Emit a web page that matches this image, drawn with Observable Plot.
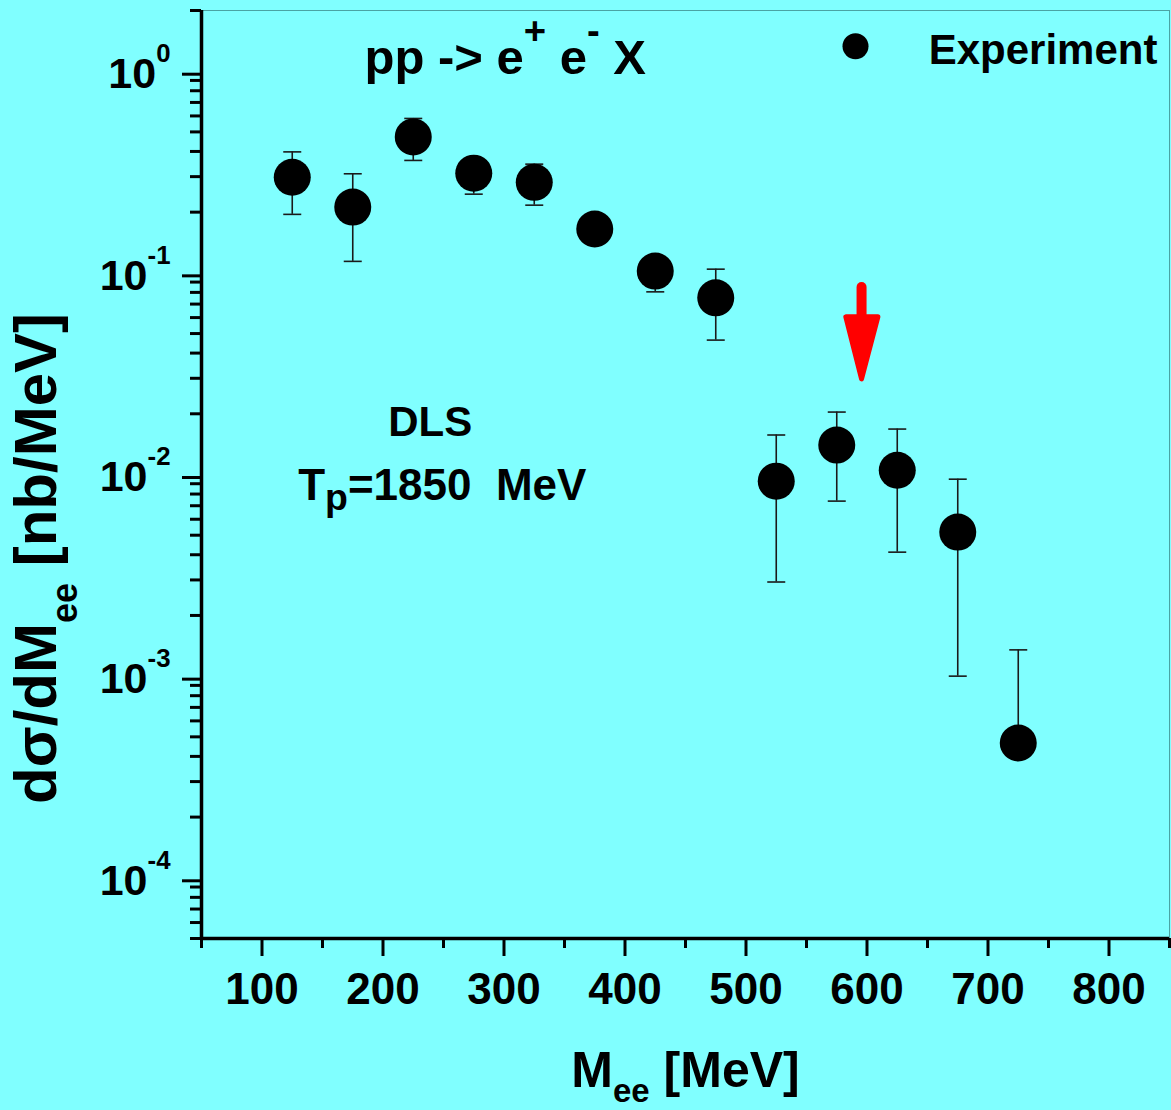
<!DOCTYPE html>
<html>
<head>
<meta charset="utf-8">
<script src="https://cdn.jsdelivr.net/npm/d3@7"></script>
<script src="https://cdn.jsdelivr.net/npm/@observablehq/plot@0.6"></script>
<style>
  html, body { margin: 0; padding: 0; background: #80FFFF; }
  #chart { width: 1171px; height: 1110px; }
</style>
</head>
<body>
<div id="chart"></div>
<script>
// ---- data ----
const massBins = [125, 175, 225, 275, 325, 375, 425, 475, 525, 575, 625, 675, 725];
const xsec     = [0.298, 0.212, 0.472, 0.312, 0.281, 0.165, 0.102, 0.0752, 0.00927, 0.0140, 0.0105, 0.00518, 0.000466];
const errHigh  = [0.398, 0.310, 0.583, 0.36, 0.346, 0.18, 0.12, 0.1043, 0.0157, 0.0204, 0.0168, 0.00948, 0.00135];
const errLow   = [0.195, 0.114, 0.361, 0.2456, 0.2166, 0.15, 0.0805, 0.0464, 0.00293, 0.00738, 0.00412, 0.00100, null];

const xTicks = [100, 200, 300, 400, 500, 600, 700, 800];
const xMinorTicks = [50, 150, 250, 350, 450, 550, 650, 750, 850];
const yDecades = [1e-4, 1e-3, 1e-2, 1e-1, 1];
const yMinorTicks = [];
[1e-5, 1e-4, 1e-3, 1e-2, 1e-1, 1].forEach(d => { for (let m = 2; m <= 9; m++) { const v = m * d; if (v >= 5e-5 && v <= 2.0001) yMinorTicks.push(v); } });

const xTitle = "M_{ee} [MeV]";
const yTitle = "dσ/dM_{ee} [nb/MeV]";
const reactionLabel = "pp -> e^{+} e^{-} X";
const detectorLabel = "DLS";
const energyLabel = "T_{p}=1850\u00a0 MeV";
const legendLabel = "Experiment";

// annotation anchors in data units
const reactionPos = {x: 301, y: 1.165};
const detectorPos = {x: 239, y: 0.0181};
const energyPos = {x: 249, y: 0.0088};
const legendDot = {x: 590.5, y: 1.33};
const legendText = {x: 651, y: 1.26};
const arrowShaft = [{x: 595.5, y1: 0.085, y2: 0.058}];
const arrowHead = [{x: 582.5, y: 0.0605}, {x: 609, y: 0.0605}, {x: 595.5, y: 0.0298}];

const points = massBins.map((m, i) => ({m, v: xsec[i], hi: errHigh[i], lo: errLow[i]}));
const caps = [];
points.forEach(p => { caps.push({m: p.m, y: p.hi}); if (p.lo != null) caps.push({m: p.m, y: p.lo}); });

const capSymbol = { draw(ctx, size) { ctx.moveTo(-9, 0); ctx.lineTo(9, 0); } };

const bold = "bold";
const plot = Plot.plot({
  width: 1171,
  height: 1110,
  marginLeft: 201,
  marginRight: 2,
  marginTop: 10,
  marginBottom: 172,
  style: { background: "#80FFFF", fontFamily: "'Liberation Sans', Arial, sans-serif", color: "black", overflow: "visible" },
  x: { domain: [50, 850] },
  y: { type: "log", domain: [5e-5, 2] },
  marks: [
    // frame
    Plot.ruleY([2], { stroke: "#4aa3a3", strokeWidth: 1 }),
    Plot.ruleX([850], { stroke: "#4aa3a3", strokeWidth: 1 }),
    // axes
    Plot.axisX({ ticks: xMinorTicks, tickSize: 10, strokeWidth: 3, tickFormat: () => "", label: null }),
    Plot.axisX({ ticks: xTicks, tickSize: 18, strokeWidth: 3, tickPadding: 16, fontSize: 44, fontWeight: bold, tickFormat: d => String(d), label: null }),
    Plot.axisY({ ticks: yMinorTicks, tickSize: 11, strokeWidth: 3, tickFormat: () => "", label: null }),
    Plot.axisY({ ticks: yDecades, tickSize: 19, strokeWidth: 3, tickPadding: 12, fontSize: 43, fontWeight: bold, dy: 3,
                 tickFormat: d => `10^{${Math.round(Math.log10(d))}}`, label: null }),
    Plot.ruleX([50], { stroke: "black", strokeWidth: 3.5 }),
    Plot.ruleY([5e-5], { stroke: "black", strokeWidth: 3.5 }),
    // error bars
    Plot.ruleX(points, { x: "m", y1: d => d.lo ?? d.v, y2: "hi", stroke: "#1a1a1a", strokeWidth: 1.6 }),
    Plot.dot(caps, { x: "m", y: "y", symbol: capSymbol, stroke: "#1a1a1a", strokeWidth: 1.6, fill: "none" }),
    // data points
    Plot.dot(points, { x: "m", y: "v", r: 18.5, fill: "black", stroke: "none" }),
    // legend
    Plot.dot([legendDot], { x: "x", y: "y", r: 13, fill: "black" }),
    Plot.text([legendText], { x: "x", y: "y", text: () => legendLabel, textAnchor: "start", fontSize: 42, fontWeight: bold, fill: "black" }),
    // annotations
    Plot.text([reactionPos], { x: "x", y: "y", text: () => reactionLabel, fontSize: 49, fontWeight: bold, fill: "black" }),
    Plot.text([detectorPos], { x: "x", y: "y", text: () => detectorLabel, fontSize: 42, fontWeight: bold, fill: "black" }),
    Plot.text([energyPos], { x: "x", y: "y", text: () => energyLabel, fontSize: 44, fontWeight: bold, fill: "black" }),
    // red arrow
    Plot.link(arrowShaft, { x1: "x", x2: "x", y1: "y1", y2: "y2", stroke: "#ff0000", strokeWidth: 10, strokeLinecap: "round" }),
    Plot.line(arrowHead, { x: "x", y: "y", fill: "#ff0000", stroke: "#ff0000", strokeWidth: 5, strokeLinejoin: "round", curve: "linear-closed" }),
    // axis titles
    Plot.text([xTitle], { frameAnchor: "bottom", textAnchor: "middle", lineAnchor: "middle", text: d => d, dy: 132, fontSize: 50, fontWeight: bold, fill: "black" }),
    Plot.text([yTitle], { frameAnchor: "left", textAnchor: "middle", lineAnchor: "middle", text: d => d, rotate: -90, dx: -165, dy: 84, fontSize: 60, fontWeight: bold, fill: "black" })
  ]
});

document.getElementById("chart").appendChild(plot);

// rich text: ^{..} superscript, _{..} subscript
const richConfig = [
  { test: s => s.startsWith("10^{"), fs: 43, supScale: 0.6, supRaise: 0.6 },
  { test: s => s.startsWith("pp"), fs: 49, supScale: 0.78, supRaise: 0.6 },
  { test: s => s.startsWith("T_{"), fs: 44, subScale: 0.85, subLower: 0.24 },
  { test: s => s.startsWith("M_{"), fs: 50, subScale: 0.66, subLower: 0.3 },
  { test: s => s.startsWith("dσ"), fs: 60, subScale: 0.6, subLower: 0.36 }
];
d3.select(plot).selectAll("text").each(function () {
  const el = this;
  const s = el.textContent;
  if (!/[\^_]\{/.test(s)) return;
  const cfg = richConfig.find(c => c.test(s));
  if (!cfg) return;
  while (el.firstChild) el.removeChild(el.firstChild);
  el.setAttribute("xml:space", "preserve");
  el.style.whiteSpace = "pre";
  const re = /([\^_])\{([^}]*)\}|([^\^_]+)/g;
  let m, offset = 0;
  while ((m = re.exec(s))) {
    const t = document.createElementNS("http://www.w3.org/2000/svg", "tspan");
    let target = 0;
    if (m[1] === "^") { t.textContent = m[2]; t.setAttribute("font-size", cfg.fs * cfg.supScale); target = -cfg.fs * cfg.supRaise; }
    else if (m[1] === "_") { t.textContent = m[2]; t.setAttribute("font-size", cfg.fs * cfg.subScale); target = cfg.fs * cfg.subLower; }
    else { t.textContent = m[3]; }
    const dy = target - offset;
    if (dy !== 0) t.setAttribute("dy", dy);
    offset = target;
    el.appendChild(t);
  }
});
</script>
</body>
</html>
